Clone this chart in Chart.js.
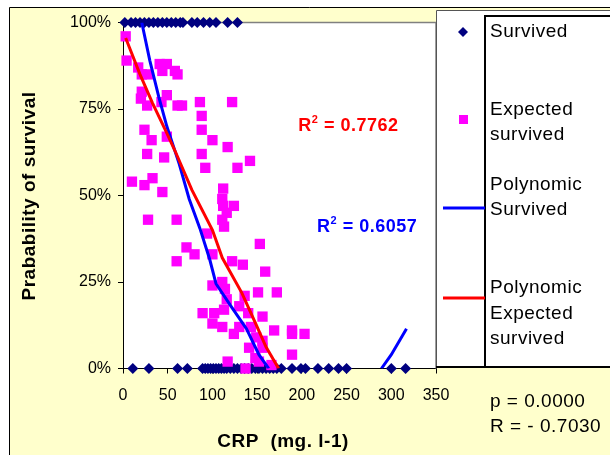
<!DOCTYPE html>
<html>
<head>
<meta charset="utf-8">
<title>CRP vs probability of survival</title>
<style>
  html, body { margin: 0; padding: 0; background: #fff; }
  #wrap { width: 610px; height: 455px; }
</style>
<script src="https://cdn.jsdelivr.net/npm/chart.js@4.4.1/dist/chart.umd.min.js"></script>
</head>
<body>
<div id="wrap"><canvas id="chart" width="610" height="455"></canvas></div>
<script>
// =======================
// Data
// =======================

const xTicks = [0, 50, 100, 150, 200, 250, 300, 350];
const yTicks = [0, 25, 50, 75, 100];

// Survived: 100% = alive, 0% = dead
const survivedCRP = [
  2, 9, 14, 19, 24, 29, 34, 39, 44, 49, 54, 59, 64, 67, 77, 83, 90, 97, 104, 117, 128,
  11, 29, 61, 72, 89, 92, 95, 98, 101, 104, 107, 110, 113, 116, 120, 124, 128, 132, 136,
  140, 144, 148, 152, 156, 160, 164, 168, 172, 177, 189, 199, 204, 218, 230, 241, 250, 300, 316
];
const survivedPct = [
  100, 100, 100, 100, 100, 100, 100, 100, 100, 100, 100, 100, 100, 100, 100, 100, 100, 100, 100, 100, 100,
  0, 0, 0, 0, 0, 0, 0, 0, 0, 0, 0, 0, 0, 0, 0, 0, 0, 0, 0,
  0, 0, 0, 0, 0, 0, 0, 0, 0, 0, 0, 0, 0, 0, 0, 0, 0, 0, 0
];

// Expected survived
const expectedCRP = [
  3, 4, 17, 21, 28, 41, 49, 44, 58, 61, 21, 20, 27, 43, 49, 61, 66, 86, 122, 88,
  24, 32, 49, 88, 100, 117, 27, 46, 88, 92, 128, 142, 10, 24, 33, 44, 112, 111, 112, 124,
  116, 28, 60, 111, 113, 94, 153, 71, 80, 60, 100, 122, 134, 159, 100, 111, 114, 116, 136, 151,
  172, 89, 102, 113, 130, 140, 100, 111, 130, 143, 156, 169, 189, 189, 203, 124, 149, 156, 141, 156,
  189, 148, 117, 137, 152, 166
];
const expectedPct = [
  96, 89, 87, 85, 85, 88, 88, 86, 86, 85, 80, 78, 76, 77, 79, 76, 76, 77, 77, 73,
  69, 66, 67, 69, 66, 64, 62, 61, 62, 58, 58, 60, 54, 53, 55, 51, 52, 49, 47, 47,
  45, 43, 43, 43, 41, 39, 36, 35, 33, 31, 33, 31, 30, 28, 24, 25, 23, 20, 21, 22,
  22, 16, 16, 17, 18, 16, 13, 12, 12, 12, 15, 11, 11, 10, 10, 10, 9, 8, 6, 6,
  4, 3, 2, 0, 2, 1
];

// Polynomic trend lines (traced, clipped at 0%..100%)
const polySurvivedCRP = [21, 30, 40, 49, 63, 74, 86, 97, 104, 122, 138, 152, 163, 226, 289, 300, 317];
const polySurvivedPct = [100, 89, 78.5, 70, 59, 49, 40.5, 31.5, 24.5, 17.5, 11.5, 4, 0, null, 0, 4, 11.5];

const polyExpectedCRP = [3, 19, 33, 49, 58, 77, 100, 111, 133, 149, 160, 174];
const polyExpectedPct = [95.5, 85, 76.7, 68, 63, 51.6, 40, 32, 21.8, 12.6, 6.2, 0];

const seriesNames = ["Survived", "Expected survived", "Polynomic Survived", "Polynomic Expected survived"];
const r2Labels = ["R\u00b2 = 0.7762", "R\u00b2 = 0.6057"];
const statLines = ["p = 0.0000", "R = - 0.7030"];

// =======================
// Helpers
// =======================

const NAVY = "#000080";
const PINK = "#FF00FF";
const BLUE = "#0000FF";
const RED = "#FF0000";
const FONT = "'Liberation Sans', Arial, sans-serif";

function toPoints(xs, ys) {
  return xs.map((x, i) => ({ x: x, y: ys[i] }));
}

function drawText(ctx, text, x, y, font, color, align) {
  ctx.save();
  ctx.font = font;
  ctx.fillStyle = color;
  ctx.textAlign = align || "left";
  ctx.textBaseline = "alphabetic";
  ctx.letterSpacing = "0.5px";
  ctx.fillText(text, x, y);
  ctx.restore();
}

// "R" with raised small "2"
function drawR2(ctx, text, x, y, color) {
  const rest = text.slice(2);
  ctx.save();
  ctx.fillStyle = color;
  ctx.textBaseline = "alphabetic";
  ctx.letterSpacing = "0.5px";
  ctx.font = "bold 18px " + FONT;
  ctx.fillText("R", x, y);
  let cx = x + ctx.measureText("R").width;
  ctx.font = "bold 11px " + FONT;
  ctx.fillText("2", cx, y - 8);
  cx += ctx.measureText("2").width;
  ctx.font = "bold 18px " + FONT;
  ctx.fillText(rest, cx, y);
  ctx.restore();
}

// =======================
// Plugin: background, frame, legend, labels
// =======================

const decorPlugin = {
  id: "decor",
  beforeDraw(chart) {
    const { ctx, chartArea: a } = chart;
    ctx.save();
    ctx.fillStyle = "#fff";
    ctx.fillRect(0, 0, chart.width, chart.height);
    ctx.fillStyle = "#FFFFCC";
    ctx.fillRect(9, 7, chart.width - 9, chart.height - 7);
    ctx.strokeStyle = "#000";
    ctx.lineWidth = 1;
    ctx.beginPath();
    ctx.moveTo(9.5, chart.height);
    ctx.lineTo(9.5, 7.5);
    ctx.lineTo(chart.width, 7.5);
    ctx.stroke();
    ctx.fillStyle = "#fff";
    ctx.fillRect(a.left, a.top, a.right - a.left, a.bottom - a.top);
    ctx.restore();
  },
  beforeDatasetsDraw(chart) {
    const { ctx, chartArea: a } = chart;
    ctx.save();
    ctx.strokeStyle = "#808080";
    ctx.lineWidth = 1.5;
    ctx.beginPath();
    ctx.moveTo(a.left, a.top);
    ctx.lineTo(a.right, a.top);
    ctx.lineTo(a.right, a.bottom);
    ctx.stroke();
    ctx.restore();
  },
  afterDraw(chart) {
    const { ctx, scales } = chart;
    const xs = scales.x, ys = scales.y;

    // R² labels
    drawR2(ctx, r2Labels[0], xs.getPixelForValue(196), ys.getPixelForValue(68.5), RED);
    drawR2(ctx, r2Labels[1], xs.getPixelForValue(217), ys.getPixelForValue(39.5), BLUE);

    // Axis titles
    drawText(ctx, "CRP  (mg. l-1)", 283, 447, "bold 19px " + FONT, "#000", "center");
    ctx.save();
    ctx.translate(35, 196);
    ctx.rotate(-Math.PI / 2);
    drawText(ctx, "Prabability of survival", 0, 0, "bold 19px " + FONT, "#000", "center");
    ctx.restore();

    // Legend box
    ctx.save();
    ctx.fillStyle = "#fff";
    ctx.fillRect(436, 10, 176, 357);
    ctx.strokeStyle = "#555";
    ctx.lineWidth = 1;
    ctx.beginPath();
    ctx.moveTo(436.5, 367);
    ctx.lineTo(436.5, 10.5);
    ctx.lineTo(612, 10.5);
    ctx.stroke();
    ctx.strokeStyle = "#000";
    ctx.lineWidth = 2;
    ctx.beginPath();
    ctx.moveTo(612, 16);
    ctx.lineTo(485, 16);
    ctx.lineTo(485, 367);
    ctx.moveTo(436, 367);
    ctx.lineTo(612, 367);
    ctx.stroke();

    // symbols
    ctx.fillStyle = NAVY;
    ctx.beginPath();
    ctx.moveTo(458, 32);
    ctx.lineTo(463, 27);
    ctx.lineTo(468, 32);
    ctx.lineTo(463, 37);
    ctx.closePath();
    ctx.fill();
    ctx.fillStyle = PINK;
    ctx.fillRect(459, 115, 9, 9);
    ctx.lineWidth = 3;
    ctx.strokeStyle = BLUE;
    ctx.beginPath();
    ctx.moveTo(443, 208);
    ctx.lineTo(485, 208);
    ctx.stroke();
    ctx.strokeStyle = RED;
    ctx.beginPath();
    ctx.moveTo(443, 298);
    ctx.lineTo(485, 298);
    ctx.stroke();
    ctx.restore();

    const lf = "19px " + FONT;
    drawText(ctx, seriesNames[0], 490, 37, lf, "#000");
    drawText(ctx, "Expected", 490, 115, lf, "#000");
    drawText(ctx, "survived", 490, 140, lf, "#000");
    drawText(ctx, "Polynomic", 490, 190, lf, "#000");
    drawText(ctx, "Survived", 490, 215, lf, "#000");
    drawText(ctx, "Polynomic", 490, 293, lf, "#000");
    drawText(ctx, "Expected", 490, 319, lf, "#000");
    drawText(ctx, "survived", 490, 344, lf, "#000");

    // Stats
    drawText(ctx, statLines[0], 490, 407, lf, "#000");
    drawText(ctx, statLines[1], 490, 432, lf, "#000");
  }
};

// =======================
// Chart
// =======================

const tickFont = { family: FONT, size: 16 };

new Chart(document.getElementById("chart").getContext("2d"), {
  type: "scatter",
  data: {
    datasets: [
      {
        label: seriesNames[0],
        data: toPoints(survivedCRP, survivedPct),
        pointStyle: "rectRot",
        pointRadius: 5.5,
        backgroundColor: NAVY,
        borderColor: NAVY,
        borderWidth: 0,
        clip: false,
        order: 4
      },
      {
        label: seriesNames[1],
        data: toPoints(expectedCRP, expectedPct),
        pointStyle: "rect",
        pointRadius: 7.3,
        backgroundColor: PINK,
        borderColor: PINK,
        borderWidth: 0,
        clip: false,
        order: 3
      },
      {
        label: seriesNames[2],
        data: toPoints(polySurvivedCRP, polySurvivedPct),
        showLine: true,
        spanGaps: false,
        pointRadius: 0,
        borderColor: BLUE,
        borderWidth: 3,
        order: 2
      },
      {
        label: seriesNames[3],
        data: toPoints(polyExpectedCRP, polyExpectedPct),
        showLine: true,
        pointRadius: 0,
        borderColor: RED,
        borderWidth: 3,
        order: 1
      }
    ]
  },
  options: {
    responsive: false,
    animation: false,
    devicePixelRatio: 1,
    layout: { padding: { left: 0, top: 22.5, right: 174, bottom: 0 } },
    plugins: {
      legend: { display: false },
      tooltip: { enabled: false }
    },
    scales: {
      x: {
        type: "linear",
        min: xTicks[0],
        max: xTicks[xTicks.length - 1],
        afterBuildTicks: s => { s.ticks = xTicks.map(v => ({ value: v })); },
        ticks: { color: "#000", font: tickFont, padding: 12, maxRotation: 0 },
        grid: { drawOnChartArea: false, drawTicks: true, tickLength: 5, color: "#000" },
        border: { display: true, color: "#000", width: 1 },
        afterFit: s => { s.height = 86.5; }
      },
      y: {
        min: yTicks[0],
        max: yTicks[yTicks.length - 1],
        afterBuildTicks: s => { s.ticks = yTicks.map(v => ({ value: v })); },
        ticks: { color: "#000", font: tickFont, padding: 7, callback: v => v + "%" },
        grid: { drawOnChartArea: false, drawTicks: true, tickLength: 5, color: "#000" },
        border: { display: true, color: "#000", width: 1 },
        afterFit: s => { s.width = 123; }
      }
    }
  },
  plugins: [decorPlugin]
});
</script>
</body>
</html>
